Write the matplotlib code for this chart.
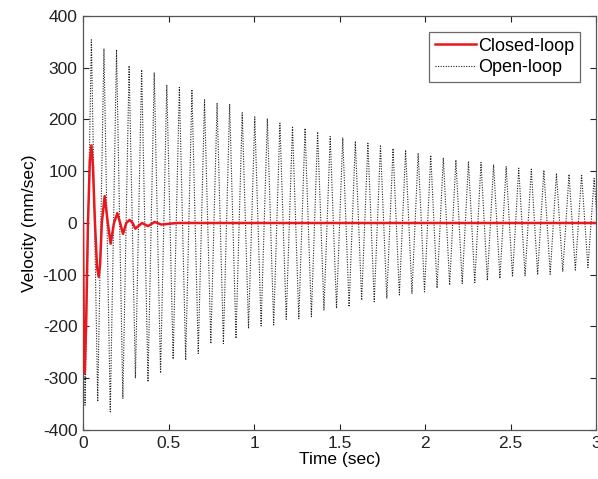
import matplotlib
matplotlib.use("Agg")
import matplotlib.pyplot as plt

plt.rcParams['font.family'] = ['Liberation Sans', 'DejaVu Sans']
plt.rcParams['axes.unicode_minus'] = False

# Open-loop: successive extrema (time in sec, velocity in mm/sec)
open_t = [0.000, 0.012, 0.049, 0.086, 0.1225, 0.1595, 0.196, 0.233, 0.2695, 0.3065,
          0.343, 0.380, 0.4165, 0.4535, 0.490, 0.527, 0.5635, 0.6005, 0.637, 0.674,
          0.7105, 0.7475, 0.784, 0.821, 0.8575, 0.8945, 0.931, 0.968, 1.0045, 1.0415,
          1.078, 1.115, 1.1515, 1.1885, 1.225, 1.262, 1.2985, 1.3355, 1.372, 1.409,
          1.4455, 1.4825, 1.519, 1.556, 1.5925, 1.6295, 1.666, 1.703, 1.7395, 1.7765,
          1.813, 1.850, 1.8865, 1.9235, 1.960, 1.997, 2.0335, 2.0705, 2.107, 2.144,
          2.1805, 2.2175, 2.254, 2.291, 2.3275, 2.3645, 2.401, 2.438, 2.4745, 2.5115,
          2.548, 2.585, 2.6215, 2.6585, 2.695, 2.732, 2.7685, 2.8055, 2.842, 2.879,
          2.9155, 2.9525, 2.989, 3.026]
open_v = [0, -352, 354, -345, 337, -365, 335, -339, 304, -300,
          296, -307, 291, -290, 267, -263, 262, -265, 258, -252,
          238, -233, 232, -233, 230, -223, 213, -204, 205, -199,
          202, -197, 193, -186, 187, -185, 183, -181, 176, -168,
          167, -165, 165, -162, 158, -149, 154, -152, 149, -146,
          144, -139, 141, -136, 135, -133, 131, -126, 126, -120,
          122, -117, 118, -115, 117, -111, 113, -107, 109, -104,
          106, -102, 104, -100, 102, -99, 96, -94, 94, -91,
          94, -86, 86, -85]

# Closed-loop: points
closed_t = [0.000, 0.004, 0.010, 0.018, 0.029, 0.040, 0.049, 0.058, 0.070, 0.082,
            0.0916, 0.100, 0.110, 0.1267, 0.145,
            0.1618, 0.181, 0.2008, 0.217, 0.234, 0.253, 0.273, 0.290, 0.306, 0.345,
            0.380, 0.419, 0.458, 0.55, 1.0, 1.5, 2.0, 2.5, 3.0]
closed_v = [0, -200, -290, -200, 0, 120, 150, 110, 0, -85,
            -104, -80, 0, 52, 0,
            -40, 0, 19, 0, -21, 0, 6, 0, -11, 0,
            -6, 2, -3, 0, 0, 0, 0, 0, 0]

x_ticks = [0, 0.5, 1, 1.5, 2, 2.5, 3]
x_tick_labels = ['0', '0.5', '1', '1.5', '2', '2.5', '3']
y_ticks = [-400, -300, -200, -100, 0, 100, 200, 300, 400]

fig = plt.figure(figsize=(5.98, 4.79), dpi=100)
ax = fig.add_axes([0.1388, 0.1023, 0.8579, 0.8643])

ax.plot(closed_t, closed_v, color='#e8181e', lw=1.8, label='Closed-loop', zorder=3)
ax.plot(open_t, open_v, color='#222222', lw=0.8, ls=(0, (1, 1.3)), label='Open-loop', zorder=2)

ax.set_xlim(0, 3)
ax.set_ylim(-400, 400)
ax.set_xticks(x_ticks)
ax.set_xticklabels(x_tick_labels)
ax.set_yticks(y_ticks)
ax.tick_params(direction='in', top=True, right=True, labelsize=12.5, length=4,
               colors='#222222', pad=4)
for s in ax.spines.values():
    s.set_color('#555555')
    s.set_linewidth(0.9)

ax.set_xlabel('Time (sec)', fontsize=12.5, labelpad=1)
ax.set_ylabel('Velocity (mm/sec)', fontsize=12.5, labelpad=4)

leg = ax.legend(loc='upper right', fontsize=13, frameon=True, fancybox=False,
                edgecolor='#444444', handlelength=2.3, handletextpad=0.1,
                borderpad=0.3, labelspacing=0.25, borderaxespad=0.9)
leg.get_frame().set_linewidth(0.9)

fig.savefig('out.png', dpi=100)
